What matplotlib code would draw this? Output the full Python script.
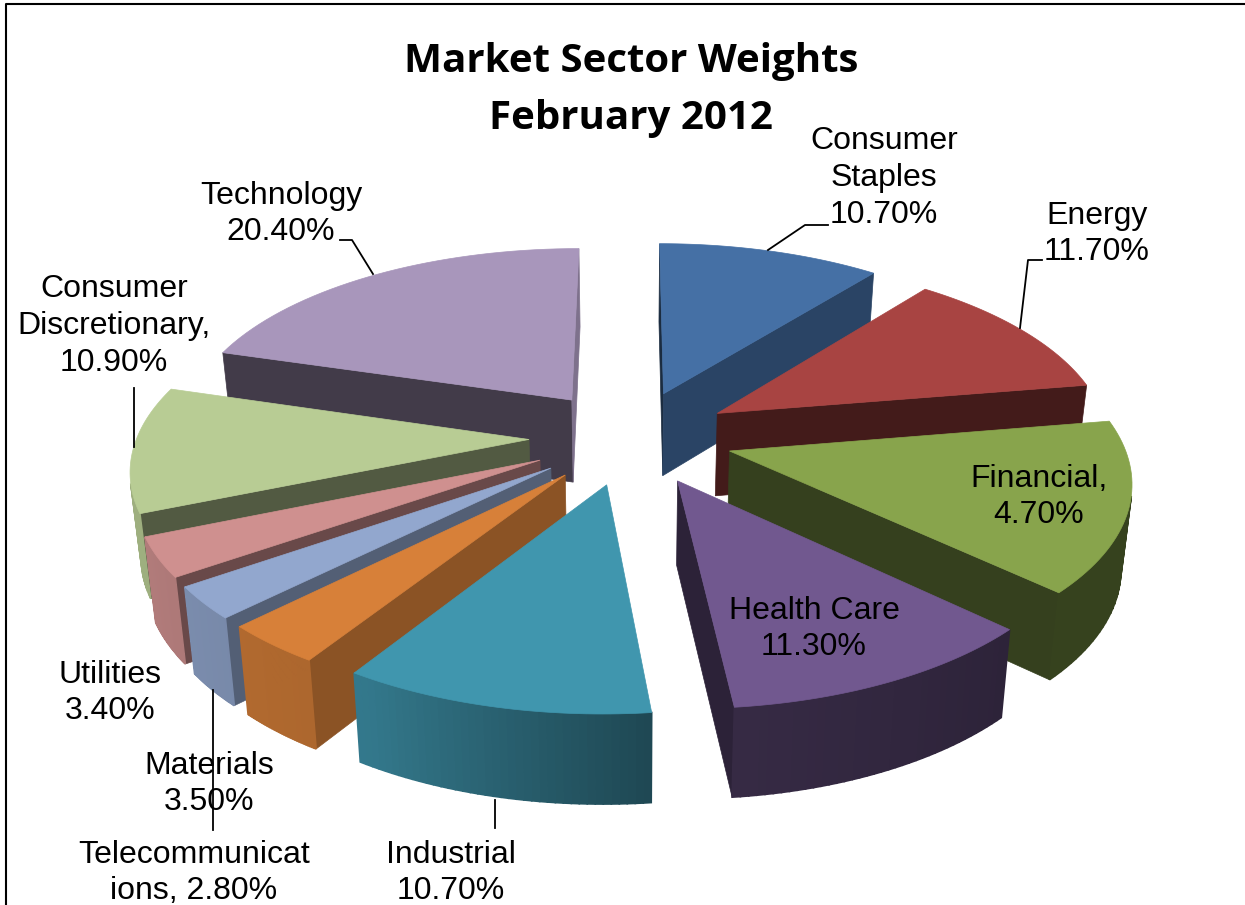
import matplotlib

matplotlib.use("Agg")
import matplotlib.pyplot as plt
import numpy as np
from matplotlib.colors import to_rgb
from matplotlib.patches import Polygon

sectors = [
    "Consumer\nStaples\n10.70%",
    "Energy\n11.70%",
    "Financial,\n4.70%",
    "Health Care\n11.30%",
    "Industrial\n10.70%",
    "Materials\n3.50%",
    "Telecommunicat\nions, 2.80%",
    "Utilities\n3.40%",
    "Consumer\nDiscretionary,\n10.90%",
    "Technology\n20.40%",
]
# the Financial slice is drawn at about 14.7 although its label says 4.70%
slice_sizes = [10.7, 11.7, 14.7, 11.3, 10.7, 3.5, 2.8, 3.4, 10.9, 20.4]
colors = [
    "#4570A5", "#A84442", "#88A44C", "#71588F", "#4096AE",
    "#D78039", "#92A7CE", "#CF908F", "#B8CC94", "#A896BB",
]
label_xy = [
    (884, 178), (1097, 234), (1039, 497), (814, 629), (451, 873),
    (209, 784), (194, 873), (110, 693), (114, 326), (281, 214),
]
leaders = [
    [(768, 250), (805, 225), (828, 225)],
    [(1020, 328), (1028, 260), (1042, 260)],
    [(373, 274), (352, 240), (340, 240)],
    [(134, 447), (134, 388)],
    [(213, 690), (213, 830)],
    [(495, 800), (495, 828)],
]

# projection of the tilted pie onto the pixel grid
CX, CY = 631, 437
R, TILT, DEPTH = 392, 0.465, 83
PERSP = 0.14
EXPLODE = 0.26


def project(x, y, z):
    s = 1 / (1 - PERSP * y)
    # the underside sits a little further from the camera
    return CX + R * x * s * (1 - 0.022 * z), CY + R * TILT * y * s + DEPTH * z * (1 + 0.4 * (s - 1))


def shade(color, factor):
    return tuple(c * factor for c in to_rgb(color))


def rim_factor(theta):
    return np.interp(theta, [90, 134, 174, 210, 250, 360], [0.4, 0.4, 0.48, 0.8, 0.86, 0.86])


def wall_factor(nx):
    return 0.39 + 0.36 * max(nx, 0) ** 2


def add_face(ax, pts, color, zorder, lw=0.5):
    pts = np.array(pts)
    xs, ys = pts[:, 0], pts[:, 1]
    # y axis points down, so a clockwise outline on screen has positive area
    area = 0.5 * np.sum(xs * np.roll(ys, -1) - np.roll(xs, -1) * ys)
    if area <= 0:
        return
    ax.add_patch(Polygon(pts, closed=True, facecolor=color, edgecolor=color, lw=lw, zorder=zorder))


def draw_slice(ax, t0, t1, color, zorder):
    mid = np.radians((t0 + t1) / 2)
    ox, oy = EXPLODE * np.sin(mid), -EXPLODE * np.cos(mid)
    thetas = np.linspace(t0, t1, 40)
    rx = ox + np.sin(np.radians(thetas))
    ry = oy - np.cos(np.radians(thetas))

    top = [project(ox, oy, 0)] + [project(a, b, 0) for a, b in zip(rx, ry)]

    # radial walls
    r0, r1 = np.radians(t0), np.radians(t1)
    start = [project(ox, oy, 0), project(ox, oy, 1), project(rx[0], ry[0], 1), project(rx[0], ry[0], 0)]
    end = [project(ox, oy, 0), project(rx[-1], ry[-1], 0), project(rx[-1], ry[-1], 1), project(ox, oy, 1)]
    add_face(ax, start, shade(color, wall_factor(-np.cos(r0))), zorder)
    add_face(ax, end, shade(color, wall_factor(np.cos(r1))), zorder)

    # outer rim, in short strips for the gradient
    for i in range(len(thetas) - 1):
        quad = [
            project(rx[i + 1], ry[i + 1], 0),
            project(rx[i], ry[i], 0),
            project(rx[i], ry[i], 1),
            project(rx[i + 1], ry[i + 1], 1),
        ]
        add_face(ax, quad, shade(color, rim_factor(thetas[i])), zorder + 0.1, lw=1.2)

    ax.add_patch(Polygon(top, closed=True, facecolor=color, edgecolor=color, lw=0.5, zorder=zorder + 0.2))


fig = plt.figure(figsize=(12.45, 9.05), dpi=100)
ax = fig.add_axes([0, 0, 1, 1])
ax.set_xlim(0, 1245)
ax.set_ylim(905, 0)
ax.axis("off")

edges = np.cumsum([0] + slice_sizes) / np.sum(slice_sizes) * 360
mids = (edges[:-1] + edges[1:]) / 2
# back slices first
order = sorted(range(len(slice_sizes)), key=lambda i: -np.cos(np.radians(mids[i])))
for z, i in enumerate(order):
    draw_slice(ax, edges[i], edges[i + 1], colors[i], 2 + z)

for pts in leaders:
    xs, ys = zip(*pts)
    ax.plot(xs, ys, color="black", lw=1.3, zorder=30)

for name, (x, y) in zip(sectors, label_xy):
    ax.text(x, y, name, ha="center", va="center", fontsize=23, family="Liberation Sans",
            linespacing=1.3, color="black", zorder=40)

ax.text(631, 90, "Market Sector Weights\nFebruary 2012", ha="center", va="center", fontsize=29,
        family="Open Sans", fontweight="bold", linespacing=1.62, zorder=40)

# chart frame
ax.plot([1245, 6, 6], [4, 4, 905], color="black", lw=1.5, zorder=50)

fig.savefig("out.png", dpi=100)
